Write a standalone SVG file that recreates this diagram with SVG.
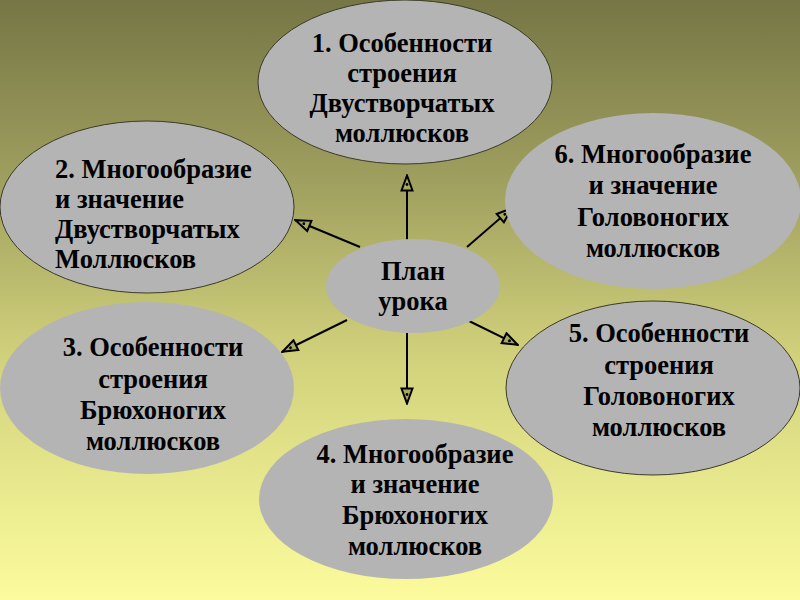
<svg xmlns="http://www.w3.org/2000/svg" width="800" height="600" viewBox="0 0 800 600">
<defs>
<linearGradient id="bg" x1="0" y1="0" x2="0" y2="1">
<stop offset="0" stop-color="#767646"/>
<stop offset="0.3" stop-color="#9f9f5f"/>
<stop offset="0.6" stop-color="#d2d27c"/>
<stop offset="1" stop-color="#fcfc9e"/>
</linearGradient>
<marker id="arr" viewBox="0 0 18 14" refX="17" refY="7" markerWidth="18" markerHeight="14" markerUnits="userSpaceOnUse" orient="auto">
<path d="M1.5,1.5 L16.5,7 L1.5,12.5 Z" fill="#a8a862" stroke="#000" stroke-width="2" stroke-linejoin="miter"/>
<circle cx="7.5" cy="7" r="1.4" fill="#000"/>
</marker>
<style>
.n{fill:#b4b4b4}
.s{stroke:#3a3a28;stroke-width:1}
text{font-family:"Liberation Serif","Times New Roman",serif;font-weight:bold;font-size:26.5px;fill:#000}
.c{text-anchor:middle}
.e{stroke:#000;stroke-width:2;fill:none;marker-end:url(#arr)}
</style>
</defs>
<rect width="800" height="600" fill="url(#bg)"/>
<g id="connectors">
<line class="e" x1="407" y1="240" x2="407" y2="175"/>
<line class="e" x1="360" y1="247" x2="295" y2="220"/>
<line class="e" x1="467" y1="247" x2="512" y2="208"/>
<line class="e" x1="347" y1="320" x2="282" y2="352"/>
<line class="e" x1="467" y1="320" x2="518" y2="345"/>
<line class="e" x1="407" y1="333" x2="407" y2="404"/>
</g>
<g id="node1">
<ellipse class="n s" cx="405" cy="82" rx="147" ry="82"/>
<text class="c"><tspan x="402" y="52">1. Особенности</tspan><tspan x="402" y="82">строения</tspan><tspan x="402" y="112">Двустворчатых</tspan><tspan x="402" y="142">моллюсков</tspan></text>
</g>
<g id="node2">
<ellipse class="n s" cx="147" cy="207" rx="147" ry="86"/>
<text><tspan x="55" y="178">2. Многообразие</tspan><tspan x="55" y="208">и значение</tspan><tspan x="55" y="238">Двустворчатых</tspan><tspan x="55" y="268">Моллюсков</tspan></text>
</g>
<g id="node6">
<ellipse class="n" cx="653" cy="201" rx="148" ry="88"/>
<text class="c"><tspan x="653" y="163">6. Многообразие</tspan><tspan x="653" y="194">и значение</tspan><tspan x="653" y="226">Головоногих</tspan><tspan x="653" y="257">моллюсков</tspan></text>
</g>
<g id="node3">
<ellipse class="n" cx="147" cy="388" rx="147" ry="86"/>
<text class="c"><tspan x="153" y="356">3. Особенности</tspan><tspan x="153" y="388">строения</tspan><tspan x="153" y="419">Брюхоногих</tspan><tspan x="153" y="450">моллюсков</tspan></text>
</g>
<g id="node5">
<ellipse class="n s" cx="653" cy="388" rx="147" ry="87"/>
<text class="c"><tspan x="659" y="342">5. Особенности</tspan><tspan x="659" y="374">строения</tspan><tspan x="659" y="405">Головоногих</tspan><tspan x="659" y="436">моллюсков</tspan></text>
</g>
<g id="node4">
<ellipse class="n" cx="406" cy="499" rx="147" ry="80"/>
<text class="c"><tspan x="415" y="463">4. Многообразие</tspan><tspan x="415" y="493">и значение</tspan><tspan x="415" y="524">Брюхоногих</tspan><tspan x="415" y="555">моллюсков</tspan></text>
</g>
<g id="center">
<ellipse class="n" cx="413" cy="286" rx="87" ry="47"/>
<text class="c"><tspan x="413" y="280">План</tspan><tspan x="413" y="310">урока</tspan></text>
</g>
</svg>
